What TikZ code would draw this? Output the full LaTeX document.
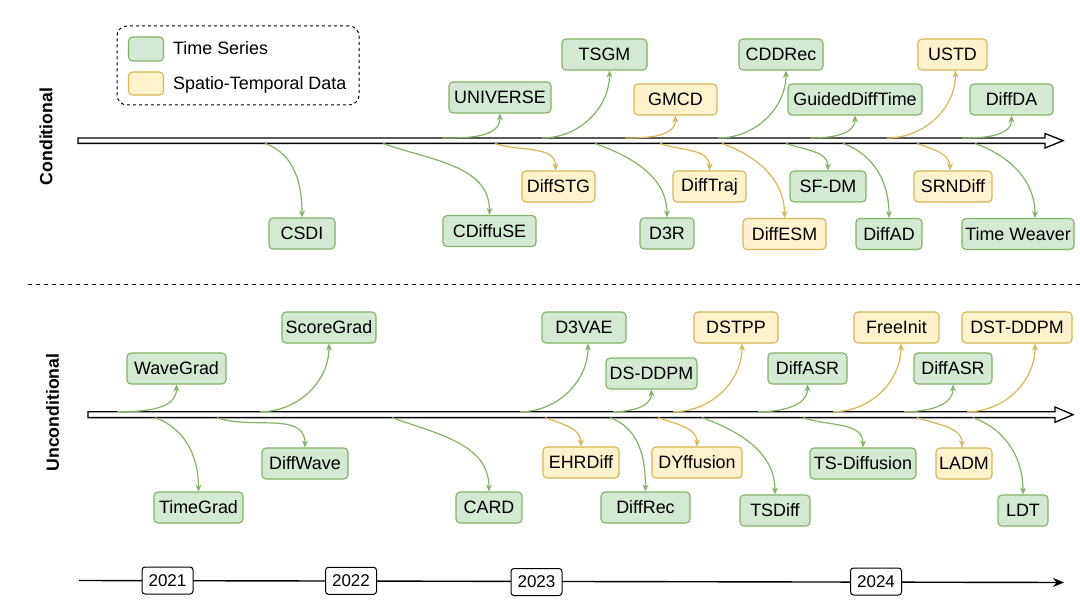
\documentclass[tikz,border=0pt]{standalone}
\usepackage{fontspec}
\setmainfont{Liberation Sans}
\usetikzlibrary{arrows.meta}
\definecolor{tsfill}{HTML}{D5E8D4}
\definecolor{tsdraw}{HTML}{82B366}
\definecolor{stfill}{HTML}{FFF2CC}
\definecolor{stdraw}{HTML}{D6B656}
\tikzset{
  box/.style={rounded corners=4pt, line width=1.1pt, minimum height=31pt, inner sep=2pt, font=\fontsize{17.9pt}{20pt}\selectfont},
  ts/.style={box, fill=tsfill, draw=tsdraw},
  st/.style={box, fill=stfill, draw=stdraw},
  gl/.style={draw=tsdraw, line width=1.2pt, -{Stealth[length=7pt,width=6pt]}},
  yl/.style={draw=stdraw, line width=1.2pt, -{Stealth[length=7pt,width=6pt]}},
  up/.style={out=0, in=-90},
  dn/.style={out=-20, in=90},
  mainarrow/.style={draw=black, fill=white, line width=1.3pt, line join=miter},
  yearbox/.style={draw=black, fill=white, rounded corners=3pt, line width=1pt, minimum width=51pt, minimum height=27pt, inner sep=1pt, font=\fontsize{17pt}{18pt}\selectfont},
  sidelabel/.style={rotate=90, font=\bfseries\fontsize{17.7pt}{20pt}\selectfont},
  legendtxt/.style={anchor=west, font=\fontsize{17.9pt}{20pt}\selectfont, inner sep=0pt},
}
\begin{document}
\begin{tikzpicture}[x=1pt, y=-1pt]
\useasboundingbox (0,0) rectangle (1080,607);
\fill[white] (0,0) rectangle (1080,607);

% legend
\node[draw=black, dashed, line width=1pt, rounded corners=10pt, minimum width=242pt, minimum height=79pt] (legend) at (238,65.5) {};
\node[ts, minimum width=35pt, minimum height=24pt] (lgts) at (146,49) {};
\node[st, minimum width=35pt, minimum height=23pt] (lgst) at (146,83.5) {};
\node[legendtxt] (lgtstxt) at (173,48.5) {Time Series};
\node[legendtxt] (lgsttxt) at (173,84.5) {Spatio-Temporal Data};

% side labels
\node[sidelabel] (condlbl) at (46,136.5) {Conditional};
\node[sidelabel] (uncondlbl) at (52.5,412.5) {Unconditional};

% divider
\draw[dashed, line width=1pt, dash pattern=on 4pt off 4pt] (28,284.5) -- (1080,284.5);

% main arrows
\draw[mainarrow] (78,138) -- (1045,138) -- (1045,133.5) -- (1063,140.7) -- (1045,148) -- (1045,143.4) -- (78,143.4) -- cycle;
\draw[mainarrow] (88,411.8) -- (1055,411.8) -- (1055,407) -- (1073,414.7) -- (1055,422.3) -- (1055,417.6) -- (88,417.6) -- cycle;

% ---------- Conditional nodes ----------
\node[ts, minimum width=102pt] (universe) at (500,97.5) {UNIVERSE};
\node[ts, minimum width=85pt] (tsgm) at (604.5,54.5) {TSGM};
\node[st, minimum width=83pt] (gmcd) at (675.5,99.5) {GMCD};
\node[ts, minimum width=84pt] (cddrec) at (781,54.5) {CDDRec};
\node[ts, minimum width=134pt] (guided) at (855,99.5) {GuidedDiffTime};
\node[st, minimum width=69pt] (ustd) at (952.5,54.5) {USTD};
\node[ts, minimum width=83pt] (diffda) at (1011.5,99.5) {DiffDA};

\node[ts, minimum width=66pt] (csdi) at (302,233.5) {CSDI};
\node[ts, minimum width=93pt] (cdiffuse) at (489.5,231) {CDiffuSE};
\node[st, minimum width=73pt] (diffstg) at (558.5,186.5) {DiffSTG};
\node[ts, minimum width=54pt] (dthreer) at (667,233.5) {D3R};
\node[st, minimum width=73pt] (difftraj) at (709.5,186.5) {DiffTraj};
\node[st, minimum width=83pt] (diffesm) at (784.5,234) {DiffESM};
\node[ts, minimum width=76pt] (sfdm) at (828,186.5) {SF-DM};
\node[ts, minimum width=66pt] (diffad) at (889,234) {DiffAD};
\node[st, minimum width=78pt] (srndiff) at (953,186.5) {SRNDiff};
\node[ts, minimum width=112pt] (weaver) at (1018,234) {Time Weaver};

% start points on conditional arrow
\coordinate (cu1) at (442,138);
\coordinate (cu2) at (542,138);
\coordinate (cu3) at (625,138);
\coordinate (cu4) at (718,138);
\coordinate (cu5) at (810,138);
\coordinate (cu6) at (887,138);
\coordinate (cu7) at (962,138);
\coordinate (cd1) at (265,143.4);
\coordinate (cd2) at (383,143.4);
\coordinate (cd3) at (495,143.4);
\coordinate (cd4) at (595,143.4);
\coordinate (cd5) at (660,143.4);
\coordinate (cd6) at (722,143.4);
\coordinate (cd7) at (786,143.4);
\coordinate (cd8) at (843,143.4);
\coordinate (cd9) at (917,143.4);
\coordinate (cd10) at (975,143.4);

\draw[gl] (cu1) to[up] (universe.south);
\draw[gl] (cu2) to[up] ([xshift=5pt]tsgm.south);
\draw[yl] (cu3) to[up] (gmcd.south);
\draw[gl] (cu4) to[up] ([xshift=5pt]cddrec.south);
\draw[gl] (cu5) to[up] (guided.south);
\draw[yl] (cu6) to[up] ([xshift=3pt]ustd.south);
\draw[gl] (cu7) to[up] (diffda.south);

\draw[gl] (cd1) to[dn] (csdi.north);
\draw[gl] (cd2) to[dn] (cdiffuse.north);
\draw[yl] (cd3) to[dn] ([xshift=-3pt]diffstg.north);
\draw[gl] (cd4) to[dn] (dthreer.north);
\draw[yl] (cd5) to[dn] (difftraj.north);
\draw[yl] (cd6) to[dn] (diffesm.north);
\draw[gl] (cd7) to[dn] (sfdm.north);
\draw[gl] (cd8) to[dn] (diffad.north);
\draw[yl] (cd9) to[dn] ([xshift=-3pt]srndiff.north);
\draw[gl] (cd10) to[dn] ([xshift=17pt]weaver.north);

% ---------- Unconditional nodes ----------
\node[ts, minimum width=99pt] (wavegrad) at (176.5,368.5) {WaveGrad};
\node[ts, minimum width=94pt] (scoregrad) at (329,327.5) {ScoreGrad};
\node[ts, minimum width=84pt] (dthreevae) at (584,327.5) {D3VAE};
\node[ts, minimum width=91pt] (dsddpm) at (651.5,373.5) {DS-DDPM};
\node[st, minimum width=84pt] (dstpp) at (736,327.5) {DSTPP};
\node[ts, minimum width=79pt] (diffasra) at (807.5,368.5) {DiffASR};
\node[st, minimum width=85pt] (freeinit) at (896.5,327.5) {FreeInit};
\node[ts, minimum width=78pt] (diffasrb) at (953,368.5) {DiffASR};
\node[st, minimum width=110pt] (dstddpm) at (1017,327.5) {DST-DDPM};

\node[ts, minimum width=86pt] (diffwave) at (305,463.5) {DiffWave};
\node[ts, minimum width=89pt] (timegrad) at (198.5,507.5) {TimeGrad};
\node[ts, minimum width=66pt] (card) at (489,507.5) {CARD};
\node[st, minimum width=76pt] (ehrdiff) at (581,462.5) {EHRDiff};
\node[ts, minimum width=89pt] (diffrec) at (645.5,507.5) {DiffRec};
\node[st, minimum width=90pt] (dyffusion) at (697,462.5) {DYffusion};
\node[ts, minimum width=70pt] (tsdiff) at (775,510.5) {TSDiff};
\node[ts, minimum width=106pt] (tsdiffusion) at (863,463.5) {TS-Diffusion};
\node[st, minimum width=56pt] (ladm) at (964,463.5) {LADM};
\node[ts, minimum width=50pt] (ldt) at (1023,510.5) {LDT};

% start points on unconditional arrow
\coordinate (uu1) at (117,411.8);
\coordinate (uu2) at (260,411.8);
\coordinate (uu3) at (520,411.8);
\coordinate (uu4) at (613,411.8);
\coordinate (uu5) at (673,411.8);
\coordinate (uu6) at (758,411.8);
\coordinate (uu7) at (833,411.8);
\coordinate (uu8) at (904,411.8);
\coordinate (uu9) at (967,411.8);
\coordinate (ud1) at (155,417.6);
\coordinate (ud2) at (217,417.6);
\coordinate (ud3) at (392,417.6);
\coordinate (ud4) at (545,417.6);
\coordinate (ud5) at (610,417.6);
\coordinate (ud6) at (658,417.6);
\coordinate (ud7) at (702,417.6);
\coordinate (ud8) at (803,417.6);
\coordinate (ud9) at (917,417.6);
\coordinate (ud10) at (973,417.6);

\draw[gl] (uu1) to[up] (wavegrad.south);
\draw[gl] (uu2) to[up] (scoregrad.south);
\draw[gl] (uu3) to[up] ([xshift=4pt]dthreevae.south);
\draw[gl] (uu4) to[up] (dsddpm.south);
\draw[yl] (uu5) to[up] ([xshift=6pt]dstpp.south);
\draw[gl] (uu6) to[up] (diffasra.south);
\draw[yl] (uu7) to[up] ([xshift=4.5pt]freeinit.south);
\draw[gl] (uu8) to[up] (diffasrb.south);
\draw[yl] (uu9) to[up] ([xshift=18pt]dstddpm.south);

\draw[gl] (ud1) to[dn] (timegrad.north);
\draw[gl] (ud2) to[dn] (diffwave.north);
\draw[gl] (ud3) to[dn] (card.north);
\draw[yl] (ud4) to[dn] (ehrdiff.north);
\draw[gl] (ud5) to[dn] (diffrec.north);
\draw[yl] (ud6) to[dn] (dyffusion.north);
\draw[gl] (ud7) to[dn] (tsdiff.north);
\draw[gl] (ud8) to[dn] (tsdiffusion.north);
\draw[yl] (ud9) to[dn] ([xshift=-2pt]ladm.north);
\draw[gl] (ud10) to[dn] (ldt.north);

% ---------- timeline ----------
\coordinate (tstart) at (79,580.5);
\coordinate (tend) at (1064,582.5);
\draw[line width=1.4pt, -{Stealth[length=11pt,width=9pt]}] (tstart) -- (tend);
\node[yearbox] (yra) at (167.5,580.5) {2021};
\node[yearbox] (yrb) at (351,580.8) {2022};
\node[yearbox] (yrc) at (536.5,582) {2023};
\node[yearbox] (yrd) at (876,581.5) {2024};
\end{tikzpicture}
\end{document}
